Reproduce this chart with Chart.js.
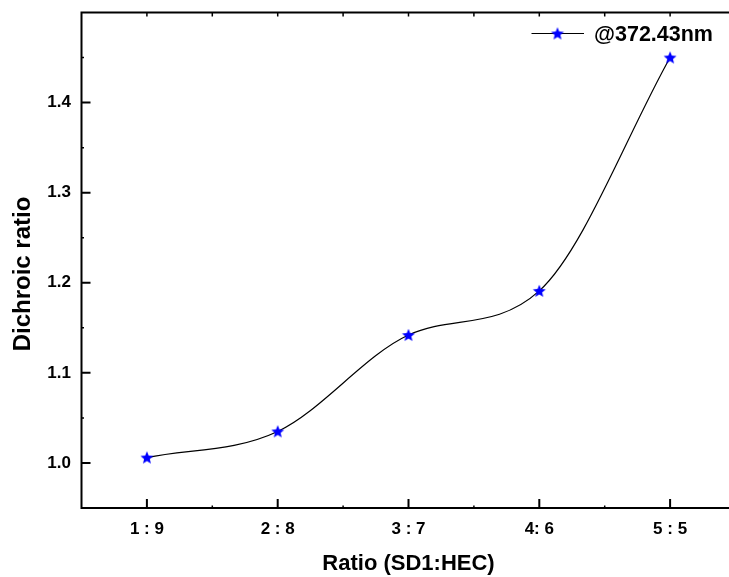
<!DOCTYPE html>
<html><head><meta charset="utf-8">
<script src="https://cdn.jsdelivr.net/npm/chart.js@4/dist/chart.umd.min.js"></script>
<style>
html,body{margin:0;padding:0;background:#fff;overflow:hidden}
#wrap{width:729px;height:577px;overflow:hidden;position:relative;background:#fff}
canvas{display:block}
</style></head><body>
<div id="wrap"><canvas id="c" width="760" height="577"></canvas></div>
<script>
// ---- data ----
const categories = ['1 : 9', '2 : 8', '3 : 7', '4: 6', '5 : 5'];
const xPositions = [1, 2, 3, 4, 5];
const dichroicRatio = [1.006, 1.035, 1.142, 1.191, 1.450];
const seriesLabel = '@372.43nm';
const yTickValues = [1.0, 1.1, 1.2, 1.3, 1.4];
const yTickLabels = ['1.0', '1.1', '1.2', '1.3', '1.4'];
const yMinorValues = [1.05, 1.15, 1.25, 1.35, 1.45];
const xMinorValues = [1.5, 2.5, 3.5, 4.5];
const xTopTickValues = [1, 1.5, 2, 2.5, 3, 3.5, 4, 4.5, 5, 5.5];
const xTitle = 'Ratio (SD1:HEC)';
const yTitle = 'Dichroic ratio';

const FONT = '"Liberation Sans", Arial, Helvetica, sans-serif';

function makeStar(r, color) {
  const s = 2 * Math.ceil(r) + 2;
  const c = document.createElement('canvas');
  c.width = s; c.height = s;
  const g = c.getContext('2d');
  g.fillStyle = color;
  g.beginPath();
  for (let i = 0; i < 10; i++) {
    const rad = (i % 2) ? r * 0.44 : r;
    const a = -Math.PI / 2 + i * Math.PI / 5;
    g.lineTo(s / 2 + rad * Math.cos(a), s / 2 + 0.5 + rad * Math.sin(a));
  }
  g.closePath();
  g.fill();
  return c;
}
const starImg = makeStar(6.8, '#0000ff');

const framePlugin = {
  id: 'frame',
  afterDatasetsDraw(chart) {
    const ctx = chart.ctx;
    const a = chart.chartArea;
    const x = chart.scales.x, y = chart.scales.y;
    ctx.save();
    ctx.strokeStyle = '#000';
    ctx.lineCap = 'butt';
    // major ticks (inward)
    ctx.lineWidth = 2;
    ctx.beginPath();
    yTickValues.forEach(v => { const py = y.getPixelForValue(v); ctx.moveTo(a.left, py); ctx.lineTo(a.left + 9, py); });
    xPositions.forEach(v => { const px = x.getPixelForValue(v); ctx.moveTo(px, a.bottom); ctx.lineTo(px, a.bottom - 9); });
    ctx.stroke();
    // minor ticks
    ctx.lineWidth = 1.5;
    ctx.beginPath();
    yMinorValues.forEach(v => { const py = y.getPixelForValue(v); ctx.moveTo(a.left, py); ctx.lineTo(a.left + 2.5, py); });
    xMinorValues.forEach(v => { const px = x.getPixelForValue(v); ctx.moveTo(px, a.bottom); ctx.lineTo(px, a.bottom - 2.5); });
    xTopTickValues.forEach(v => { const px = x.getPixelForValue(v); ctx.moveTo(px, a.top); ctx.lineTo(px, a.top + 4); });
    ctx.stroke();
    // frame
    ctx.lineWidth = 2;
    ctx.beginPath();
    ctx.moveTo(a.left, a.top); ctx.lineTo(a.left, a.bottom + 1);
    ctx.moveTo(a.left - 1, a.bottom); ctx.lineTo(a.right + 1, a.bottom);
    ctx.moveTo(a.left - 1, a.top); ctx.lineTo(a.right + 1, a.top);
    ctx.moveTo(a.right, a.top); ctx.lineTo(a.right, a.bottom);
    ctx.stroke();
    ctx.restore();
  },
  afterDraw(chart) {
    const ctx = chart.ctx;
    ctx.save();
    // y axis title
    ctx.fillStyle = '#000';
    ctx.font = 'bold 24px ' + FONT;
    ctx.textAlign = 'center';
    ctx.textBaseline = 'alphabetic';
    ctx.translate(30, 274);
    ctx.rotate(-Math.PI / 2);
    ctx.fillText(yTitle, 0, 0);
    ctx.restore();
    // legend
    ctx.save();
    const ly = 33.5;
    ctx.strokeStyle = '#000';
    ctx.lineWidth = 1.2;
    ctx.beginPath();
    ctx.moveTo(531.5, ly); ctx.lineTo(584, ly);
    ctx.stroke();
    ctx.drawImage(starImg, 557.5 - starImg.width / 2, ly - starImg.height / 2);
    ctx.fillStyle = '#000';
    ctx.font = 'bold 21.5px ' + FONT;
    ctx.textAlign = 'left';
    ctx.textBaseline = 'alphabetic';
    ctx.fillText(chart.data.datasets[0].label, 594, 41);
    ctx.restore();
  }
};

new Chart(document.getElementById('c'), {
  type: 'line',
  data: {
    datasets: [{
      label: seriesLabel,
      data: xPositions.map((xv, i) => ({ x: xv, y: dichroicRatio[i] })),
      borderColor: '#000',
      borderWidth: 1.2,
      cubicInterpolationMode: 'monotone',
      pointStyle: starImg,
      pointRadius: 7,
      pointBackgroundColor: '#0000ff',
      pointBorderColor: '#0000ff',
      fill: false
    }]
  },
  options: {
    responsive: false,
    animation: false,
    devicePixelRatio: 1,
    layout: { padding: { top: 12.5, right: 24.5, left: 0, bottom: 0 } },
    plugins: { legend: { display: false }, tooltip: { enabled: false } },
    scales: {
      x: {
        type: 'linear',
        min: 0.5, max: 5.5,
        afterBuildTicks: s => { s.ticks = xPositions.map(v => ({ value: v })); },
        afterFit: s => { s.height = 69; s.paddingLeft = 0; s.paddingRight = 0; },
        grid: { display: false, drawTicks: false },
        border: { display: false },
        ticks: {
          autoSkip: false, maxRotation: 0, padding: 11, color: '#000',
          font: { family: FONT, size: 17, weight: 'bold' },
          callback: (v) => { const i = xPositions.indexOf(v); return i >= 0 ? categories[i] : ''; }
        },
        title: {
          display: true, text: xTitle, color: '#000',
          font: { family: FONT, size: 22, weight: 'bold' },
          padding: { top: 0, bottom: 0 }
        }
      },
      y: {
        type: 'linear',
        min: 0.95, max: 1.5,
        afterBuildTicks: s => { s.ticks = yTickValues.map(v => ({ value: v })); },
        afterFit: s => { s.width = 81.5; s.paddingTop = 0; s.paddingBottom = 0; },
        grid: { display: false, drawTicks: false },
        border: { display: false },
        ticks: {
          autoSkip: false, padding: 10.5, color: '#000',
          font: { family: FONT, size: 17, weight: 'bold' },
          callback: (v) => { const i = yTickValues.findIndex(t => Math.abs(t - v) < 1e-9); return i >= 0 ? yTickLabels[i] : ''; }
        }
      }
    }
  },
  plugins: [framePlugin]
});
</script>
</body></html>
